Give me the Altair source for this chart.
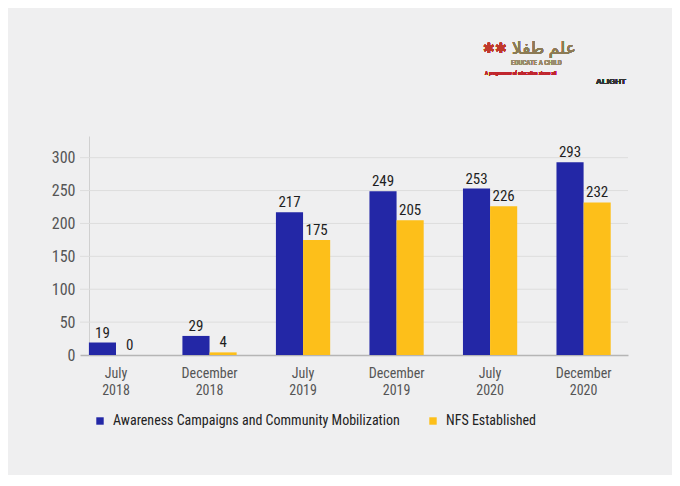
import altair as alt
import pandas as pd

periods = ["July 2018", "December 2018", "July 2019", "December 2019", "July 2020", "December 2020"]
series = ["Awareness Campaigns and Community Mobilization", "NFS Established"]
awareness = [19, 29, 217, 249, 253, 293]
nfs = [0, 4, 175, 205, 226, 232]
y_ticks = [0, 50, 100, 150, 200, 250, 300]
colors = ["#2327a6", "#fdbf1a"]

rows = []
for p, a, n in zip(periods, awareness, nfs):
    rows.append({"period": p, "series": series[0], "value": a})
    rows.append({"period": p, "series": series[1], "value": n})
df = pd.DataFrame(rows)
grid_df = pd.DataFrame({"v": y_ticks[1:]})

FONT = "'Roboto Condensed', 'Liberation Sans Narrow', 'Arial Narrow', 'Open Sans Condensed', sans-serif"

yscale = alt.Scale(domain=[0, 333], nice=False)
y_axis = alt.Axis(title=None, values=y_ticks, grid=False, offset=-9, ticks=False,
                  labelPadding=14, labelFontSize=16, labelColor="#555555",
                  labelFont=FONT, domainColor="#d0d0d0", labelOverlap=False)

x_enc = alt.X(
    "period:N", sort=periods,
    scale=alt.Scale(paddingInner=0.42, paddingOuter=0.14, align=0.34),
    axis=alt.Axis(title=None, labelExpr="split(datum.label, ' ')", labelAngle=0,
                  ticks=False, labelPadding=11, labelFontSize=14, labelColor="#555555",
                  labelLineHeight=17, domainColor="#b5b5b5", domainWidth=1.5,
                  labelFont=FONT, labelOverlap=False),
)
xoff = alt.XOffset("series:N", sort=series, scale=alt.Scale(paddingInner=0, paddingOuter=0))

grid = alt.Chart(grid_df).mark_rule(color="#dddddd", strokeWidth=1).encode(
    y=alt.Y("v:Q", scale=yscale, axis=y_axis)
)

bars = alt.Chart(df).mark_bar().encode(
    x=x_enc,
    xOffset=xoff,
    y=alt.Y("value:Q", scale=yscale, axis=y_axis),
    color=alt.Color("series:N", sort=series,
                    scale=alt.Scale(domain=series, range=colors),
                    legend=alt.Legend(title=None, orient="none", direction="horizontal",
                                      legendX=13, legendY=278, symbolType="square",
                                      symbolSize=55, symbolStrokeWidth=0,
                                      labelFontSize=14, labelColor="#222222",
                                      labelFont=FONT, columnPadding=26, labelOffset=6,
                                      labelLimit=0)),
)

labels = alt.Chart(df).mark_text(baseline="bottom", dy=-2, fontSize=15, color="#1e1e1e",
                                 font=FONT).encode(
    x=alt.X("period:N", sort=periods),
    xOffset=xoff,
    y=alt.Y("value:Q", scale=yscale, axis=y_axis),
    text=alt.Text("value:Q"),
)

logo1 = alt.Chart(df).mark_text(text="علم طفلا", fontSize=17, color="#8c7b55",
                                font="'Noto Sans', 'DejaVu Sans', sans-serif", align="left").encode(
    x=alt.value(432), y=alt.value(-87))
logo1b = alt.Chart(df).mark_text(text="✱✱", fontSize=14, color="#c0392b", align="left").encode(
    x=alt.value(403), y=alt.value(-87))
logo2 = alt.Chart(df).mark_text(text="EDUCATE A CHILD", fontSize=7, color="#9a8a6a",
                                font=FONT, align="left").encode(
    x=alt.value(431), y=alt.value(-73))
logo3 = alt.Chart(df).mark_text(text="A programme of education above all", fontSize=5, color="#c0262d",
                                font=FONT, align="left").encode(
    x=alt.value(405), y=alt.value(-63))
logo4 = alt.Chart(df).mark_text(text="ALIGHT", fontSize=8, fontWeight="bold", color="#333333",
                                font="'Liberation Sans', sans-serif").encode(
    x=alt.value(531), y=alt.value(-54))

chart = alt.layer(grid, bars, labels, logo1, logo1b, logo2, logo3, logo4).properties(
    width=548, height=219,
    padding={"left": 72, "top": 128, "right": 44, "bottom": 120},
    autosize=alt.AutoSizeParams(type="none"),
    background="#efeff0",
).configure_view(stroke=None)

chart.save("out.html", embed_options={"renderer": "svg", "actions": False})
